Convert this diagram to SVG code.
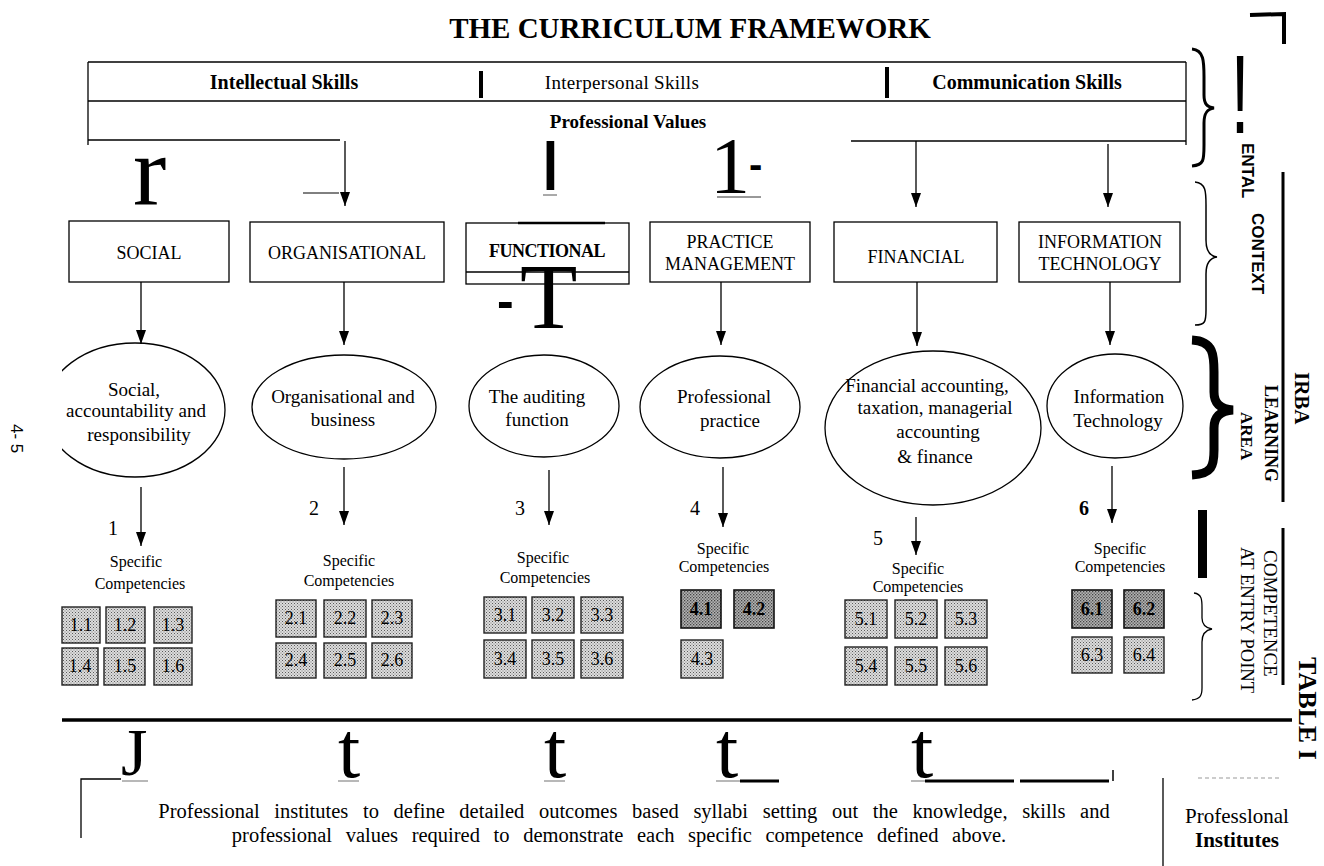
<svg xmlns="http://www.w3.org/2000/svg" width="1324" height="866" viewBox="0 0 1324 866">
<defs>
<style>
.s{font-family:"Liberation Serif","Times New Roman",serif;fill:#000}
.b{font-weight:bold}
.ss{font-family:"Liberation Sans",Arial,sans-serif;fill:#000}
.ln{stroke:#000;stroke-width:1.3;fill:none}
.ar{stroke:#000;stroke-width:1.3;fill:none;marker-end:url(#ah)}
.bx{fill:#fff;stroke:#000;stroke-width:1.3}
.el{fill:none;stroke:#000;stroke-width:1.3}
.cb{fill:url(#st);stroke:#222;stroke-width:1.4}
.cd{fill:url(#sd);stroke:#111;stroke-width:1.6}
.ct{font-family:"Liberation Serif","Times New Roman",serif;font-size:18px;text-anchor:middle;fill:#000}
.lab{font-family:"Liberation Serif","Times New Roman",serif;font-size:16px;text-anchor:middle;fill:#000}
.et{font-family:"Liberation Serif","Times New Roman",serif;font-size:19px;text-anchor:middle;fill:#000}
.bt{font-family:"Liberation Serif","Times New Roman",serif;font-size:18px;text-anchor:middle;fill:#000}
.num{font-family:"Liberation Serif","Times New Roman",serif;font-size:20px;fill:#000}
.big{font-family:"Liberation Serif","Times New Roman",serif;fill:#000}
</style>
<marker id="ah" viewBox="0 0 14 10" refX="14" refY="5" markerWidth="14" markerHeight="10" markerUnits="userSpaceOnUse" orient="auto">
<path d="M0,0 L14,5 L0,10 z" fill="#000"/>
</marker>
<pattern id="st" width="3" height="3" patternUnits="userSpaceOnUse">
<rect width="3" height="3" fill="#dcdcdc"/><rect width="1" height="1" fill="#5a5a5a"/><rect x="1.5" y="1.5" width="1" height="1" fill="#7a7a7a"/>
</pattern>
<pattern id="sd" width="3" height="3" patternUnits="userSpaceOnUse">
<rect width="3" height="3" fill="#b4b4b4"/><rect width="1.3" height="1.3" fill="#444"/><rect x="1.5" y="1.5" width="1.3" height="1.3" fill="#555"/>
</pattern>
<clipPath id="cl1"><rect x="62" y="300" width="300" height="250"/></clipPath>
</defs>
<rect width="1324" height="866" fill="#fff"/>

<text id="title" class="s b" x="690" y="38" font-size="29" text-anchor="middle">THE CURRICULUM FRAMEWORK</text>

<g id="skills-table">
<line class="ln" x1="88" y1="62" x2="1186" y2="62"/>
<line class="ln" x1="88" y1="101" x2="1186" y2="101"/>
<line class="ln" x1="88" y1="140" x2="340" y2="140"/>
<line class="ln" x1="851" y1="141" x2="1186" y2="141"/>
<line class="ln" x1="88" y1="62" x2="88" y2="145"/>
<line class="ln" x1="1186" y1="62" x2="1186" y2="145"/>
<rect x="479" y="71" width="4" height="27" fill="#000"/>
<rect x="885" y="67" width="4" height="31" fill="#000"/>
<text class="s b" x="284" y="89" font-size="20" text-anchor="middle">Intellectual Skills</text>
<text class="s" x="622" y="89" font-size="19" text-anchor="middle" letter-spacing="0.3">Interpersonal Skills</text>
<text class="s b" x="1027" y="89" font-size="20" text-anchor="middle">Communication Skills</text>
<text class="s b" x="628" y="128" font-size="19" text-anchor="middle">Professional Values</text>
</g>

<g id="artifacts-top">
<text class="big" x="133" y="205" font-size="100">r</text>
<line x1="303" y1="193" x2="339" y2="193" stroke="#000" stroke-width="1"/>
<text class="ss" transform="translate(543,190) scale(0.75,1)" font-size="71" font-weight="bold">I</text>
<line x1="543" y1="195" x2="557" y2="195" stroke="#555" stroke-width="1"/>
<text class="big" x="710" y="193" font-size="80">1</text>
<text class="ss" x="749" y="178" font-size="40" font-weight="bold">-</text>
<line x1="717" y1="197" x2="761" y2="197" stroke="#333" stroke-width="1"/>
</g>

<g id="n-social"><rect class="bx" x="69" y="221" width="160" height="61"/><text class="bt" x="149" y="259">SOCIAL</text></g>
<g id="n-organisational"><rect class="bx" x="250" y="222" width="194" height="60"/><text class="bt" x="347" y="259">ORGANISATIONAL</text></g>
<g id="n-functional"><rect class="bx" x="466" y="223" width="163" height="61" stroke-width="2"/><line x1="466" y1="272" x2="629" y2="272" stroke="#000" stroke-width="1.3"/><line x1="518" y1="223" x2="605" y2="223" stroke="#000" stroke-width="2.5"/><text class="bt b" x="547" y="257" font-size="17.5" letter-spacing="-0.5">FUNCTIONAL</text></g>
<g id="n-practice"><rect class="bx" x="650" y="222" width="160" height="60"/><text class="bt" x="730" y="248">PRACTICE</text><text class="bt" x="730" y="270">MANAGEMENT</text></g>
<g id="n-financial"><rect class="bx" x="834" y="222" width="163" height="60"/><text class="bt" x="916" y="263">FINANCIAL</text></g>
<g id="n-it"><rect class="bx" x="1019" y="222" width="161" height="60"/><text class="bt" x="1100" y="248">INFORMATION</text><text class="bt" x="1100" y="270">TECHNOLOGY</text></g>

<g id="artifact-T">
<text class="ss" x="497" y="318" font-size="50" font-weight="bold">-</text>
<text class="big" x="520" y="328" font-size="94">T</text>
</g>

<g id="e-social"><ellipse class="el" cx="135" cy="410" rx="90" ry="67" clip-path="url(#cl1)"/><text class="et" x="134" y="396">Social,</text><text class="et" x="136" y="417">accountability and</text><text class="et" x="139" y="441">responsibility</text></g>
<g id="e-organisational"><ellipse class="el" cx="344" cy="407" rx="92" ry="52"/><text class="et" x="343" y="403">Organisational and</text><text class="et" x="343" y="426">business</text></g>
<g id="e-auditing"><ellipse class="el" cx="544" cy="406" rx="75" ry="51"/><text class="et" x="537" y="403">The auditing</text><text class="et" x="537" y="426">function</text></g>
<g id="e-practice"><ellipse class="el" cx="720" cy="407" rx="80" ry="51"/><text class="et" x="724" y="403">Professional</text><text class="et" x="730" y="427">practice</text></g>
<g id="e-financial"><ellipse class="el" cx="933" cy="428" rx="108" ry="77"/><text class="et" x="927" y="392">Financial accounting,</text><text class="et" x="935" y="414">taxation, managerial</text><text class="et" x="938" y="438">accounting</text><text class="et" x="935" y="463">&amp; finance</text></g>
<g id="e-it"><ellipse class="el" cx="1115" cy="406" rx="68" ry="52"/><text class="et" x="1119" y="403">Information</text><text class="et" x="1118" y="427">Technology</text></g>

<g id="connectors">
<line class="ar" x1="345" y1="141" x2="345" y2="206"/>
<line class="ar" x1="916" y1="141" x2="916" y2="207"/>
<line class="ar" x1="1108" y1="144" x2="1108" y2="207"/>
<line class="ar" x1="141" y1="282" x2="141" y2="344"/>
<line class="ar" x1="344" y1="282" x2="344" y2="345"/>
<line class="ar" x1="721" y1="282" x2="721" y2="345"/>
<line class="ar" x1="917" y1="282" x2="917" y2="346"/>
<line class="ar" x1="1110" y1="282" x2="1110" y2="345"/>
<line class="ar" x1="141" y1="487" x2="141" y2="546"/>
<line class="ar" x1="344" y1="467" x2="344" y2="525"/>
<line class="ar" x1="549" y1="470" x2="549" y2="525"/>
<line class="ar" x1="723" y1="467" x2="723" y2="527"/>
<line class="ar" x1="916" y1="517" x2="916" y2="555" stroke-width="2.5"/>
<line class="ar" x1="1112" y1="466" x2="1112" y2="523"/>
</g>

<g id="numbers">
<text class="num" x="108" y="535">1</text>
<text class="num" x="309" y="515">2</text>
<text class="num" x="515" y="515">3</text>
<text class="num" x="690" y="515">4</text>
<text class="num" x="873" y="545">5</text>
<text class="num b" x="1079" y="515">6</text>
</g>

<g id="sc-1"><text class="lab" x="136" y="567">Specific</text><text class="lab" x="140" y="589">Competencies</text>
<g id="c1-1"><rect class="cb" x="62" y="607" width="38" height="36"/><text class="ct" x="81" y="631">1.1</text></g>
<g id="c1-2"><rect class="cb" x="106" y="607" width="39" height="36"/><text class="ct" x="125" y="631">1.2</text></g>
<g id="c1-3"><rect class="cb" x="154" y="607" width="38" height="36"/><text class="ct" x="173" y="631">1.3</text></g>
<g id="c1-4"><rect class="cb" x="62" y="648" width="36" height="37"/><text class="ct" x="80" y="672">1.4</text></g>
<g id="c1-5"><rect class="cb" x="104" y="648" width="41" height="37"/><text class="ct" x="125" y="672">1.5</text></g>
<g id="c1-6"><rect class="cb" x="154" y="648" width="38" height="37"/><text class="ct" x="173" y="672">1.6</text></g>
</g>
<g id="sc-2"><text class="lab" x="349" y="566">Specific</text><text class="lab" x="349" y="586">Competencies</text>
<g id="c2-1"><rect class="cb" x="276" y="600" width="40" height="37"/><text class="ct" x="296" y="624">2.1</text></g>
<g id="c2-2"><rect class="cb" x="324" y="600" width="42" height="37"/><text class="ct" x="345" y="624">2.2</text></g>
<g id="c2-3"><rect class="cb" x="372" y="600" width="40" height="37"/><text class="ct" x="392" y="624">2.3</text></g>
<g id="c2-4"><rect class="cb" x="276" y="643" width="40" height="35"/><text class="ct" x="296" y="666">2.4</text></g>
<g id="c2-5"><rect class="cb" x="324" y="643" width="42" height="35"/><text class="ct" x="345" y="666">2.5</text></g>
<g id="c2-6"><rect class="cb" x="372" y="643" width="40" height="35"/><text class="ct" x="392" y="666">2.6</text></g>
</g>
<g id="sc-3"><text class="lab" x="543" y="563">Specific</text><text class="lab" x="545" y="583">Competencies</text>
<g id="c3-1"><rect class="cb" x="484" y="597" width="42" height="36"/><text class="ct" x="505" y="621">3.1</text></g>
<g id="c3-2"><rect class="cb" x="532" y="597" width="42" height="36"/><text class="ct" x="553" y="621">3.2</text></g>
<g id="c3-3"><rect class="cb" x="581" y="597" width="42" height="36"/><text class="ct" x="602" y="621">3.3</text></g>
<g id="c3-4"><rect class="cb" x="484" y="640" width="42" height="38"/><text class="ct" x="505" y="665">3.4</text></g>
<g id="c3-5"><rect class="cb" x="532" y="640" width="42" height="38"/><text class="ct" x="553" y="665">3.5</text></g>
<g id="c3-6"><rect class="cb" x="581" y="640" width="42" height="38"/><text class="ct" x="602" y="665">3.6</text></g>
</g>
<g id="sc-4"><text class="lab" x="723" y="554">Specific</text><text class="lab" x="724" y="572">Competencies</text>
<g id="c4-1"><rect class="cd" x="681" y="590" width="40" height="38"/><text class="ct b" x="701" y="615">4.1</text></g>
<g id="c4-2"><rect class="cd" x="734" y="590" width="40" height="38"/><text class="ct b" x="754" y="615">4.2</text></g>
<g id="c4-3"><rect class="cb" x="681" y="640" width="42" height="38"/><text class="ct" x="702" y="665">4.3</text></g>
</g>
<g id="sc-5"><text class="lab" x="918" y="574">Specific</text><text class="lab" x="918" y="592">Competencies</text>
<g id="c5-1"><rect class="cb" x="845" y="600" width="42" height="38"/><text class="ct" x="866" y="625">5.1</text></g>
<g id="c5-2"><rect class="cb" x="895" y="600" width="42" height="38"/><text class="ct" x="916" y="625">5.2</text></g>
<g id="c5-3"><rect class="cb" x="945" y="600" width="42" height="38"/><text class="ct" x="966" y="625">5.3</text></g>
<g id="c5-4"><rect class="cb" x="845" y="647" width="42" height="38"/><text class="ct" x="866" y="672">5.4</text></g>
<g id="c5-5"><rect class="cb" x="895" y="647" width="42" height="38"/><text class="ct" x="916" y="672">5.5</text></g>
<g id="c5-6"><rect class="cb" x="945" y="647" width="42" height="38"/><text class="ct" x="966" y="672">5.6</text></g>
</g>
<g id="sc-6"><text class="lab" x="1120" y="554">Specific</text><text class="lab" x="1120" y="572">Competencies</text>
<g id="c6-1"><rect class="cd" x="1072" y="590" width="40" height="38"/><text class="ct b" x="1092" y="615">6.1</text></g>
<g id="c6-2"><rect class="cd" x="1124" y="590" width="40" height="38"/><text class="ct b" x="1144" y="615">6.2</text></g>
<g id="c6-3"><rect class="cb" x="1072" y="637" width="40" height="36"/><text class="ct" x="1092" y="661">6.3</text></g>
<g id="c6-4"><rect class="cb" x="1124" y="637" width="40" height="36"/><text class="ct" x="1144" y="661">6.4</text></g>
</g>

<g id="side-labels">
<path d="M1250,15 L1284,14 L1284,44" fill="none" stroke="#000" stroke-width="4"/>
<path d="M1192,49 C1204,50 1204,62 1204,77 L1204,95 C1204,104 1207,107 1214,108 C1207,109 1204,113 1204,123 L1204,145 C1204,160 1204,165 1192,166" fill="none" stroke="#000" stroke-width="3"/>
<text class="ss" transform="translate(1240,133) scale(0.6,1)" font-size="112" text-anchor="middle">!</text>
<text class="ss b" transform="translate(1242,143) rotate(90)" font-size="17" font-weight="bold">ENTAL</text>
<line x1="1283" y1="172" x2="1283" y2="502" stroke="#000" stroke-width="3"/>
<path d="M1195,182 C1206,183 1206,192 1206,205 L1206,240 C1206,250 1209,256 1217,257 C1209,258 1206,264 1206,274 L1206,310 C1206,322 1205,325 1195,325" fill="none" stroke="#000" stroke-width="1.5"/>
<text class="ss b" transform="translate(1252,213) rotate(90)" font-size="17" font-weight="bold">CONTEXT</text>
<path d="M1192,340 C1214,341 1214,356 1214,372 L1214,392 C1214,403 1220,409 1233,410 C1220,411 1214,417 1214,428 L1214,450 C1214,466 1212,474 1192,475" fill="none" stroke="#000" stroke-width="9"/>
<text class="s b" transform="translate(1241,412) rotate(90)" font-size="17">AREA</text>
<text class="s b" transform="translate(1265,385) rotate(90)" font-size="18">LEARNING</text>
<text class="s b" transform="translate(1295,372) rotate(90)" font-size="21">IRBA</text>
<rect x="1198" y="510" width="9" height="68" fill="#000"/>
<line x1="1283" y1="528" x2="1283" y2="685" stroke="#000" stroke-width="3"/>
<text class="s" transform="translate(1264,550) rotate(90)" font-size="19">COMPETENCE</text>
<text class="s" transform="translate(1241,547) rotate(90)" font-size="18.5">AT ENTRY POINT</text>
<path d="M1194,593 C1202,594 1202,600 1202,608 L1202,618 C1202,624 1206,628 1212,629 C1206,630 1202,634 1202,642 L1202,688 C1202,696 1200,699 1192,700" fill="none" stroke="#000" stroke-width="1.3"/>
<text class="s b" transform="translate(1299,657) rotate(90)" font-size="26">TABLE I</text>
<text class="ss" transform="translate(11,424) rotate(90)" font-size="17">4- 5</text>
</g>

<g id="bottom">
<line x1="62" y1="720" x2="1292" y2="720" stroke="#000" stroke-width="3.5"/>
<text class="big" x="121" y="775" font-size="68">J</text>
<text class="big" x="338" y="777" font-size="80">t</text>
<text class="big" x="544" y="777" font-size="80">t</text>
<text class="big" x="716" y="777" font-size="80">t</text>
<text class="big" x="911" y="777" font-size="80">t</text>
<g stroke="#888" stroke-width="1.2">
<line x1="122" y1="781" x2="148" y2="781"/>
<line x1="338" y1="781" x2="359" y2="781"/>
<line x1="544" y1="781" x2="565" y2="781"/>
<line x1="716" y1="781" x2="740" y2="781"/>
<line x1="911" y1="781" x2="926" y2="781"/>
</g>
<g stroke="#000" stroke-width="3">
<line x1="740" y1="781" x2="779" y2="781"/>
<line x1="925" y1="781" x2="1014" y2="781"/>
<line x1="1020" y1="781" x2="1109" y2="781"/>
</g>
<line x1="1113" y1="770" x2="1113" y2="781" stroke="#000" stroke-width="1.5"/>
<path d="M121,779 L81,779 L81,838" fill="none" stroke="#000" stroke-width="1.3"/>
<text class="s" x="634" y="818" font-size="20.5" text-anchor="middle" word-spacing="9.5">Professional institutes to define detailed outcomes based syllabi setting out the knowledge, skills and</text>
<text class="s" x="619" y="842" font-size="20.5" text-anchor="middle" word-spacing="8.5">professional values required to demonstrate each specific competence defined  above.</text>
<line x1="1163" y1="778" x2="1163" y2="866" stroke="#000" stroke-width="1.3"/>
<line x1="1198" y1="778" x2="1280" y2="778" stroke="#999" stroke-width="1" stroke-dasharray="4 3"/>
<text class="s" x="1237" y="823" font-size="21" text-anchor="middle">Professlonal</text>
<text class="s b" x="1237" y="847" font-size="21" text-anchor="middle">Institutes</text>
</g>
</svg>
